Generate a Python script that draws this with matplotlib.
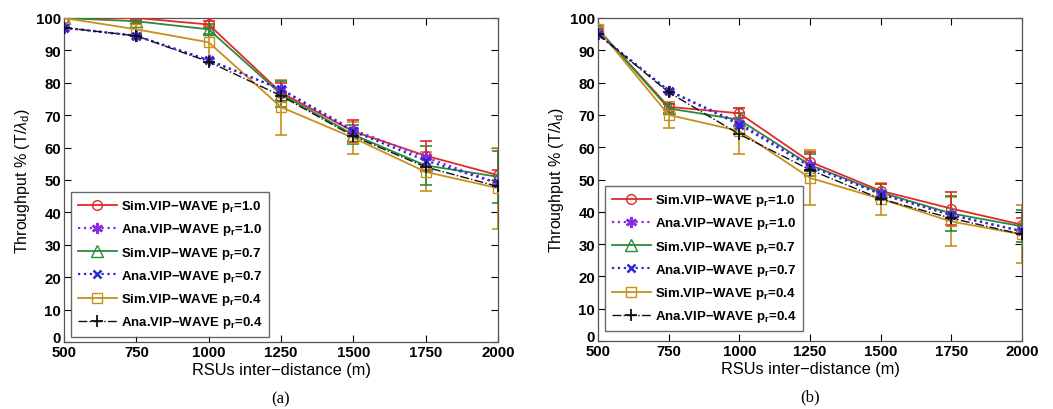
import matplotlib
matplotlib.use("Agg")
import matplotlib.pyplot as plt
import matplotlib.transforms as mtransforms
import numpy as np

distances = [500, 750, 1000, 1250, 1500, 1750, 2000]

# Panel (a)
a_sim10 = [100, 100, 98, 77, 65, 57.5, 51.5]
a_ana10 = [97, 94.5, 87, 78, 65.5, 57, 49]
a_sim07 = [100, 99, 96.5, 76.5, 64, 54.5, 51]
a_ana07 = [97, 94.5, 87, 78, 65, 56, 49]
a_sim04 = [100, 96.5, 92.5, 72.5, 63, 52.5, 47.5]
a_ana04 = [97, 94.5, 86.5, 76, 63.5, 54, 48]
a_err10 = [0, 0.5, 1, 3, 3.5, 4.5, 1.5]
a_err07 = [0, 1, 1.5, 4, 3, 6, 8]
a_err04 = [0, 2, 5, 8.5, 5, 6, 12.5]

# Panel (b)
b_sim10 = [96.5, 72.5, 70.5, 55.5, 46.5, 41, 36]
b_ana10 = [95, 77.5, 67.5, 54.5, 45.5, 39, 34]
b_sim07 = [96.5, 72, 68.5, 54.5, 46, 39.5, 35.5]
b_ana07 = [95, 77.5, 67, 54, 45.5, 39, 34]
b_sim04 = [96.5, 70, 65, 50.5, 44, 37, 33]
b_ana04 = [95, 77, 64, 53, 44, 38, 33]
b_err10 = [0, 1, 1.5, 3, 2, 5, 2]
b_err07 = [0, 1.5, 2, 3.5, 2.5, 5.5, 5]
b_err04 = [0, 4, 7, 8.5, 5, 7.5, 9]

labels = ["Sim.VIP\u2212WAVE $\\mathbf{p_r}$=1.0",
          "Ana.VIP\u2212WAVE $\\mathbf{p_r}$=1.0",
          "Sim.VIP\u2212WAVE $\\mathbf{p_r}$=0.7",
          "Ana.VIP\u2212WAVE $\\mathbf{p_r}$=0.7",
          "Sim.VIP\u2212WAVE $\\mathbf{p_r}$=0.4",
          "Ana.VIP\u2212WAVE $\\mathbf{p_r}$=0.4"]

plt.rcParams['font.family'] = ['Liberation Sans', 'DejaVu Sans']
plt.rcParams['mathtext.fontset'] = 'custom'
plt.rcParams['mathtext.rm'] = 'Liberation Sans'
plt.rcParams['mathtext.it'] = 'Liberation Sans:italic'
plt.rcParams['mathtext.bf'] = 'Liberation Sans:bold'

RED = '#e02a2a'
PURPLE = '#8a2be2'
GREEN = '#2a8a3a'
BLUE = '#2a2ad0'
GOLD = '#c8901a'
BLACK = '#111111'

fig = plt.figure(figsize=(10.53, 4.10), dpi=100)
ax_a = fig.add_axes([64/1053, 1-343/410, 434/1053, 324/410])
ax_b = fig.add_axes([598/1053, 1-342/410, 424/1053, 323/410])

def draw(ax, sim10, ana10, sim07, ana07, sim04, ana04, e10, e07, e04, leg_anchor, cap):
    x = distances
    ax.errorbar(x, sim04, yerr=e04, fmt='none', ecolor=GOLD, elinewidth=1.2, capsize=4, capthick=1.2, zorder=2)
    ax.errorbar(x, sim07, yerr=e07, fmt='none', ecolor=GREEN, elinewidth=1.2, capsize=4, capthick=1.2, zorder=2)
    ax.errorbar(x, sim10, yerr=e10, fmt='none', ecolor=RED, elinewidth=1.2, capsize=4, capthick=1.2, zorder=2)
    h = []
    h += ax.plot(x, sim10, '-', color=RED, marker='o', mfc='none', ms=7, lw=1.3, label=labels[0], zorder=3)
    h += ax.plot(x, ana10, ':', color=PURPLE, marker=(6, 2, 0), ms=8, mew=1.8, lw=1.6, label=labels[1], zorder=4)
    h += ax.plot(x, sim07, '-', color=GREEN, marker='^', mfc='none', ms=8, lw=1.3, label=labels[2], zorder=3)
    h += ax.plot(x, ana07, ':', color=BLUE, marker='x', ms=6, mew=1.8, lw=1.6, label=labels[3], zorder=4)
    h += ax.plot(x, sim04, '-', color=GOLD, marker='s', mfc='none', ms=7, lw=1.3, label=labels[4], zorder=3)
    h += ax.plot(x, ana04, '-.', color=BLACK, marker='+', ms=9, mew=1.3, lw=1.0, label=labels[5], zorder=4)
    ax.set_xlim(500, 2000)
    ax.set_ylim(0, 100)
    ax.set_xticks(distances)
    ax.set_yticks(range(0, 101, 10))
    ax.tick_params(direction='in', top=True, right=True, length=5, width=0.8, labelsize=10.8, pad=2)
    for lab in ax.get_xticklabels() + ax.get_yticklabels():
        lab.set_fontweight('bold')
    ylabs = ax.get_yticklabels()
    ylabs[0].set_transform(ylabs[0].get_transform() +
                           mtransforms.ScaledTranslation(0, 4/72, fig.dpi_scale_trans))
    for s in ax.spines.values():
        s.set_color('#555555')
        s.set_linewidth(0.9)
    ax.set_xlabel('RSUs inter\u2212distance (m)', fontsize=11.8, labelpad=2)
    ax.set_ylabel('Throughput % (T/$\\lambda_\\mathrm{d}$)', fontsize=11.5, labelpad=3)
    leg = ax.legend(handles=h, loc='lower left', bbox_to_anchor=leg_anchor, numpoints=1,
                    handlelength=3.0, prop={'weight': 'bold', 'size': 9.5},
                    frameon=True, fancybox=False, edgecolor='#444444', borderpad=0.5,
                    labelspacing=0.55, handletextpad=0.3, borderaxespad=0.0)
    leg.get_frame().set_linewidth(1.0)
    ax.text(0.5, -0.173, cap, transform=ax.transAxes, ha='center', va='center',
            fontsize=12, family='Liberation Serif')

draw(ax_a, a_sim10, a_ana10, a_sim07, a_ana07, a_sim04, a_ana04, a_err10, a_err07, a_err04,
     (7/434, 5/324), '(a)')
draw(ax_b, b_sim10, b_ana10, b_sim07, b_ana07, b_sim04, b_ana04, b_err10, b_err07, b_err04,
     (7/424, 10/323), '(b)')

fig.savefig('out.png', dpi=100)
